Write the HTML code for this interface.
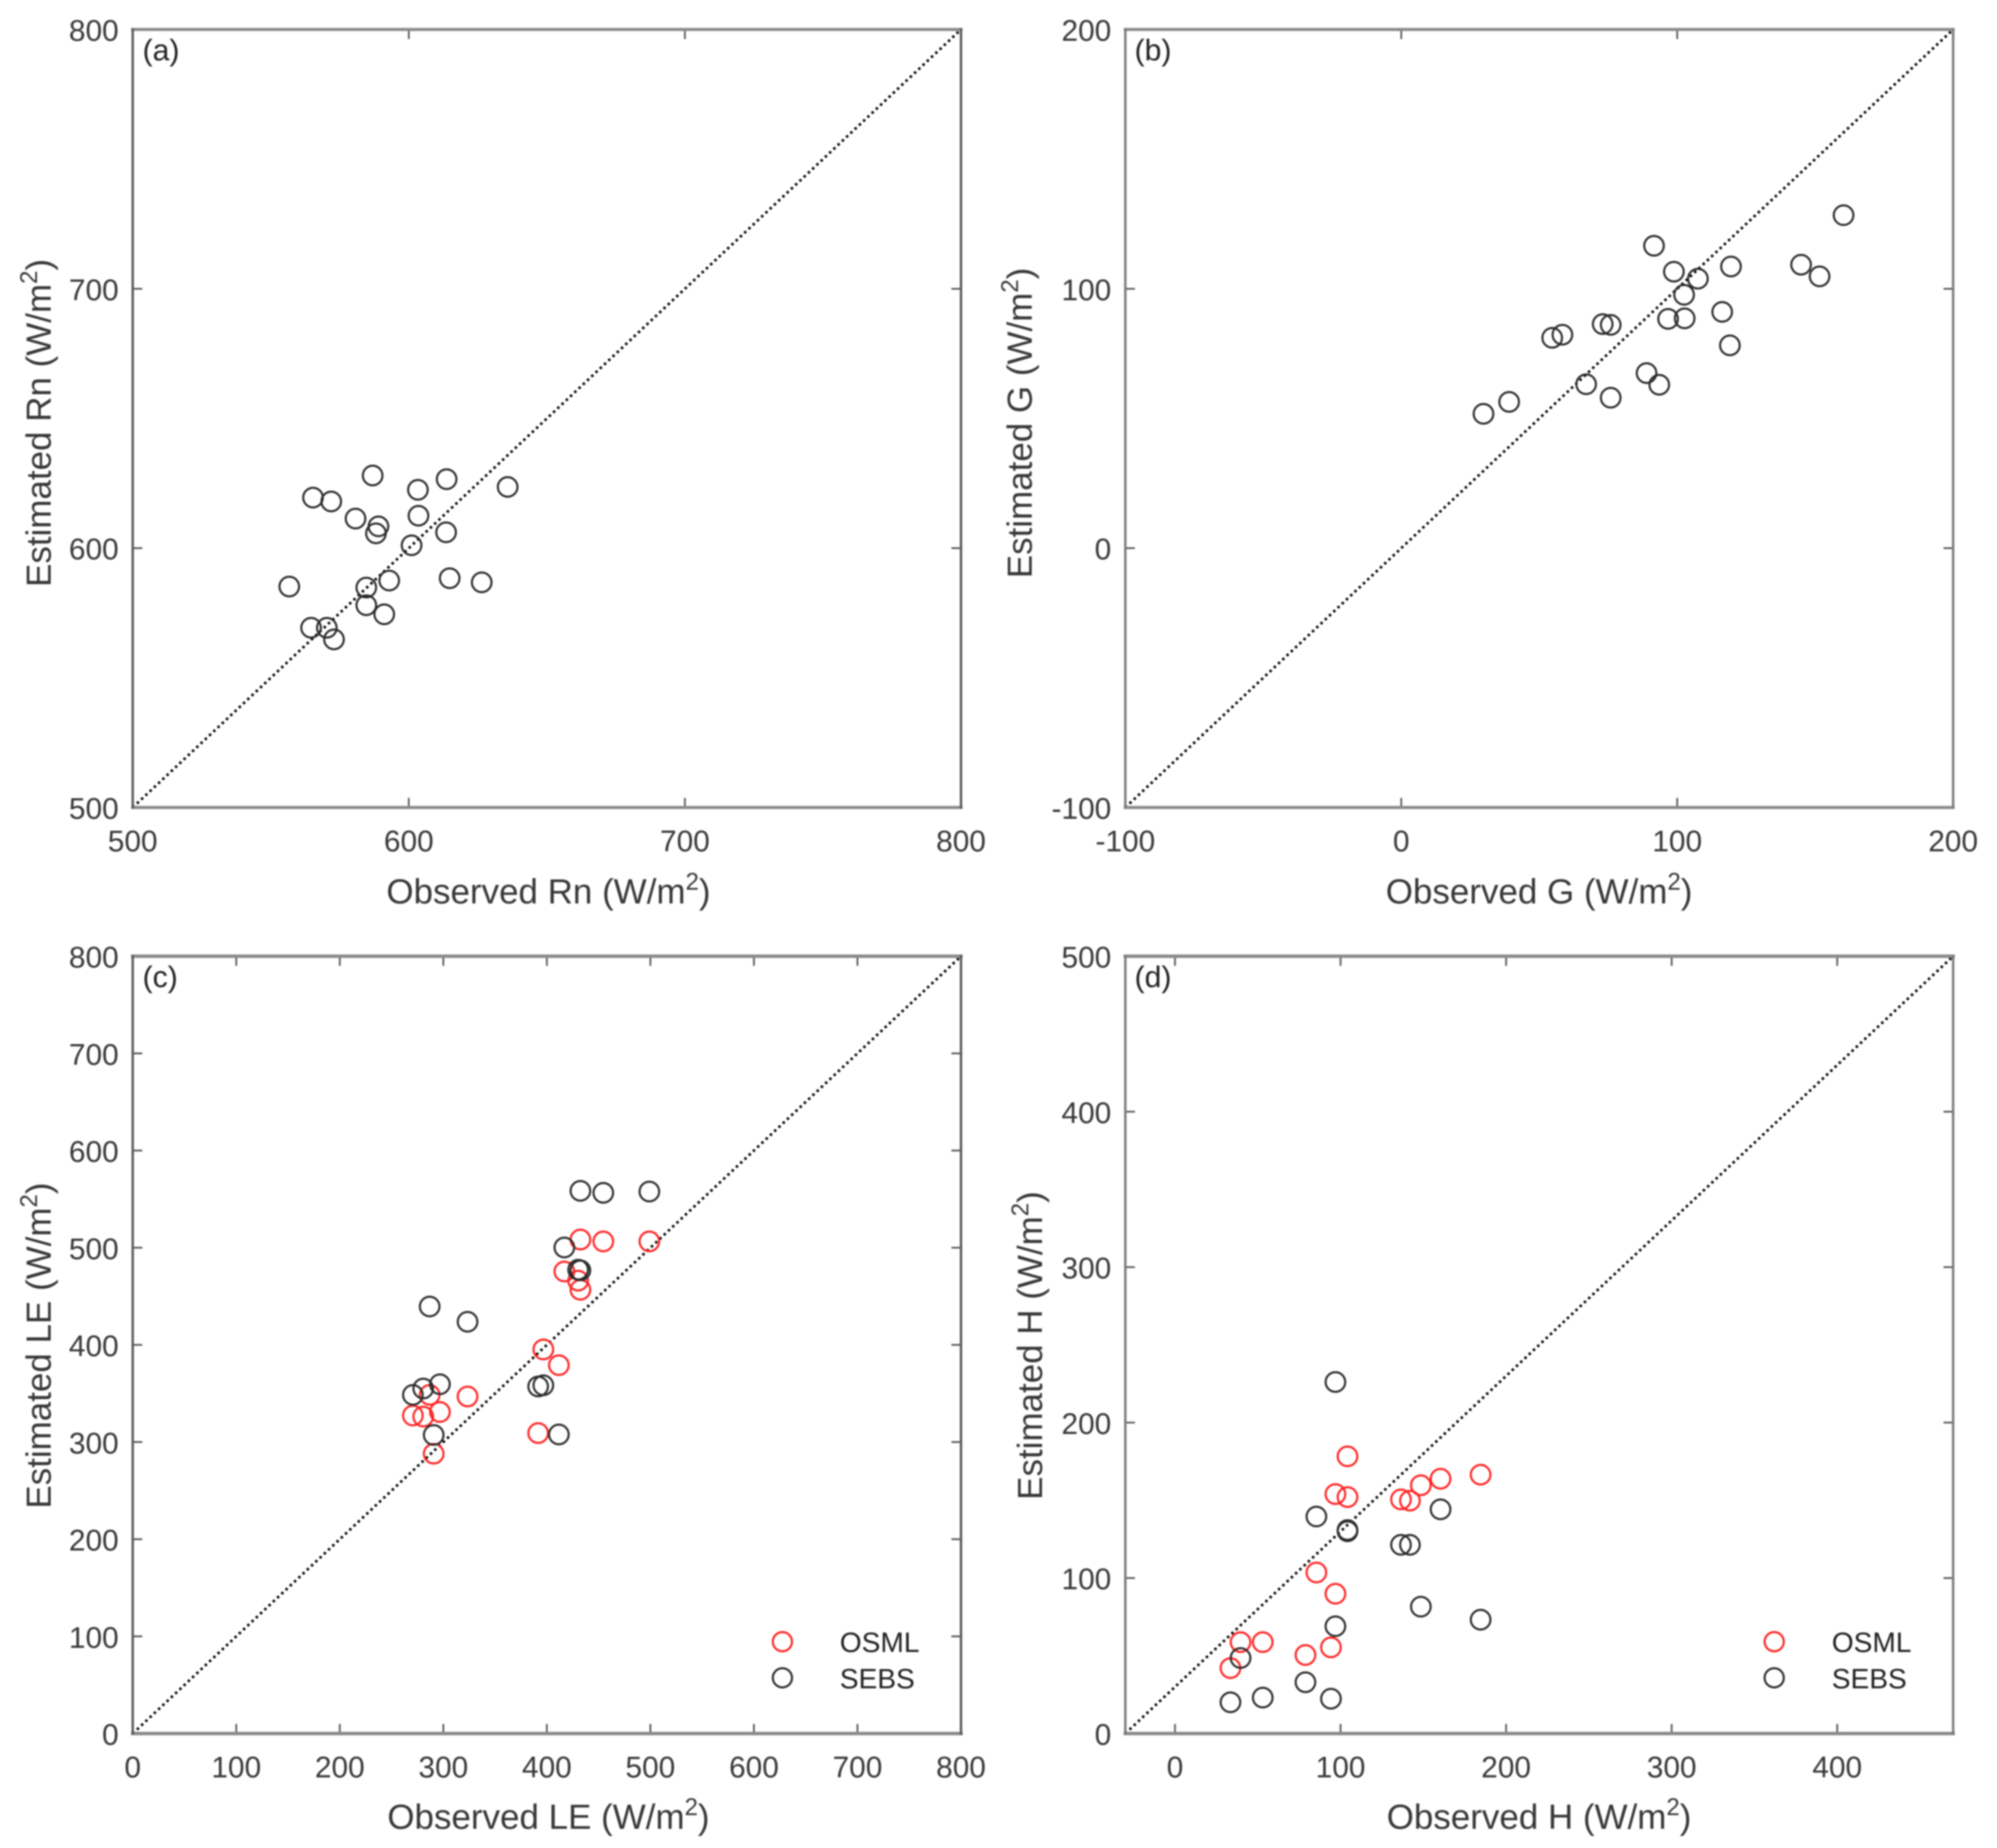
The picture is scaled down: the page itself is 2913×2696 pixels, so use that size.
<!DOCTYPE html>
<html lang="en">
<head>
<meta charset="utf-8">
<title>Observed vs estimated energy fluxes</title>
<style>
html,body{margin:0;padding:0;background:#fff;}
svg{display:block;filter:blur(0.95px);}
text{font-family:"Liberation Sans",Arial,sans-serif;}
.tick-label{font-size:43.5px;fill:#383838;}
.axis-title{font-size:51px;fill:#383838;}
.panel-tag{font-size:44px;fill:#222222;}
.legend-text{font-size:41px;fill:#222222;}
</style>
</head>
<body>
<svg id="chart" xmlns="http://www.w3.org/2000/svg" width="2913" height="2696" viewBox="0 0 2913 2696">
  <rect x="0" y="0" width="2913" height="2696" fill="#ffffff"/>

  <g id="panel-a"></g>
  <g id="panel-b"></g>
  <g id="panel-c"></g>
  <g id="panel-d"></g>

  <text class="panel-tag" x="208" y="88">(a)</text>
  <text class="panel-tag" x="1655" y="88">(b)</text>
  <text class="panel-tag" x="208" y="1440">(c)</text>
  <text class="panel-tag" x="1655" y="1440">(d)</text>

  <text class="axis-title" x="800" y="1318" text-anchor="middle">Observed Rn (W/m<tspan dy="-20" font-size="35">2</tspan><tspan dy="20">)</tspan></text>
  <text class="axis-title" x="2245" y="1318" text-anchor="middle">Observed G (W/m<tspan dy="-20" font-size="35">2</tspan><tspan dy="20">)</tspan></text>
  <text class="axis-title" x="800" y="2668" text-anchor="middle">Observed LE (W/m<tspan dy="-20" font-size="35">2</tspan><tspan dy="20">)</tspan></text>
  <text class="axis-title" x="2245" y="2668" text-anchor="middle">Observed H (W/m<tspan dy="-20" font-size="35">2</tspan><tspan dy="20">)</tspan></text>

  <text class="axis-title" transform="translate(74 617) rotate(-90)" text-anchor="middle">Estimated Rn (W/m<tspan dy="-20" font-size="35">2</tspan><tspan dy="20">)</tspan></text>
  <text class="axis-title" transform="translate(1505 617) rotate(-90)" text-anchor="middle">Estimated G (W/m<tspan dy="-20" font-size="35">2</tspan><tspan dy="20">)</tspan></text>
  <text class="axis-title" transform="translate(74 1963) rotate(-90)" text-anchor="middle">Estimated LE (W/m<tspan dy="-20" font-size="35">2</tspan><tspan dy="20">)</tspan></text>
  <text class="axis-title" transform="translate(1520 1963) rotate(-90)" text-anchor="middle">Estimated H (W/m<tspan dy="-20" font-size="35">2</tspan><tspan dy="20">)</tspan></text>

  <g>
    <circle cx="1141.3" cy="2395" r="14" fill="none" stroke="#ff2020" stroke-width="3"/>
    <text class="legend-text" x="1225" y="2410">OSML</text>
    <circle cx="1141.3" cy="2447.7" r="14" fill="none" stroke="#2a2a2a" stroke-width="3"/>
    <text class="legend-text" x="1225" y="2463">SEBS</text>
  </g>
  <g>
    <circle cx="2588" cy="2395" r="14" fill="none" stroke="#ff2020" stroke-width="3"/>
    <text class="legend-text" x="2672" y="2410">OSML</text>
    <circle cx="2588" cy="2447.7" r="14" fill="none" stroke="#2a2a2a" stroke-width="3"/>
    <text class="legend-text" x="2672" y="2463">SEBS</text>
  </g>
</svg>

<script>
// ---- Panel (a) Rn ----
const rnObserved = [556.7,564.6,570.3,572.9,565.3,571.9,580.7,586.9,589,588.1,584.6,584.6,591.1,592.9,601,603.3,603.5,613.7,613.5,614.8,626.4,635.8];
const rnEstimated = [585.2,569.3,569.3,564.8,619.5,618,611.4,628,608.4,605.7,584.8,578,574.5,587.5,601.1,622.5,612.5,626.6,606.1,588.4,586.8,623.6];
const rnXTicks = [500,600,700,800];
const rnYTicks = [500,600,700,800];

// ---- Panel (b) G ----
const gObserved = [29.8,39.1,54.7,58.4,67,73,75.9,75.9,88.9,93.5,91.6,96.7,98.8,102.5,102.7,107.5,116.3,119.1,119.5,144.9,151.6,160.3];
const gEstimated = [51.8,56.4,81.1,82.3,63.2,86.4,86.1,58,67.5,63,116.6,88.4,106.6,97.7,88.6,103.9,91.1,78.2,108.6,109.3,104.8,128.4];
const gXTicks = [-100,0,100,200];
const gYTicks = [-100,0,100,200];

// ---- Panel (c) LE ----
const leObserved = [432.4,454.5,499,416.9,430.2,432.4,396.6,411.6,286.8,323.4,296.7,280.6,270.6,391.6,290.7];
const leOsml = [508.4,506.5,506.5,475.5,466.1,456.7,395.3,379.1,348.5,346.9,330.9,326.2,327.3,309.2,288];
const leSebs = [558.5,556.5,557.8,500.2,477.4,476.7,358.4,307.8,439.5,423.8,359.5,355.1,348.5,357.2,307.3];
const leXTicks = [0,100,200,300,400,500,600,700,800];
const leYTicks = [0,100,200,300,400,500,600,700,800];

// ---- Panel (d) H ----
const hObserved = [33.5,39.6,53,78.8,85.4,94.2,96.9,96.9,104.2,104.2,136.5,141.9,148.5,160.4,184.6];
const hOsml = [42.1,58.8,58.8,50.5,103.6,55.4,89.9,154,178.3,152.1,150.6,149.8,159.7,163.9,166.5];
const hSebs = [20.1,48.6,23.1,33,139.6,22.4,69,226.1,130.1,130.9,121.4,121.4,81.6,144.2,73.2];
const hXTicks = [0,100,200,300,400];
const hYTicks = [0,100,200,300,400,500];

const SVG_NS = 'http://www.w3.org/2000/svg';

function make(tag, parent, attrs) {
  const el = document.createElementNS(SVG_NS, tag);
  for (const k in attrs) el.setAttribute(k, attrs[k]);
  parent.appendChild(el);
  return el;
}

function drawPanel(cfg) {
  const g = document.getElementById(cfg.id);
  const sx = v => cfg.left + (v - cfg.xLim[0]) / (cfg.xLim[1] - cfg.xLim[0]) * (cfg.right - cfg.left);
  const sy = v => cfg.bottom - (v - cfg.yLim[0]) / (cfg.yLim[1] - cfg.yLim[0]) * (cfg.bottom - cfg.top);

  // diagonal reference line
  const diag = make('line', g, {
    x1: sx(cfg.xLim[0]), y1: sy(cfg.yLim[0]),
    x2: sx(cfg.xLim[1]), y2: sy(cfg.yLim[1]),
    stroke: '#000000', 'stroke-width': 3.8, 'stroke-dasharray': '3.6 4.9'
  });
  
  

  // ticks + labels
  cfg.xTicks.forEach(t => {
    const x = sx(t);
    const bottomTick = make('line', g, {x1: x, y1: cfg.bottom, x2: x, y2: cfg.bottom - 14, stroke: '#555', 'stroke-width': 2.5});
    
    
    const topTick = make('line', g, {x1: x, y1: cfg.top, x2: x, y2: cfg.top + 14, stroke: '#555', 'stroke-width': 2.5});
    
    
    const label = make('text', g, {x: x, y: cfg.bottom + 64, 'text-anchor': 'middle', class: 'tick-label'});
    
    
    label.textContent = String(t);
  });
  cfg.yTicks.forEach(t => {
    const y = sy(t);
    const leftTick = make('line', g, {x1: cfg.left, y1: y, x2: cfg.left + 14, y2: y, stroke: '#555', 'stroke-width': 2.5});
    
    
    const rightTick = make('line', g, {x1: cfg.right, y1: y, x2: cfg.right - 14, y2: y, stroke: '#555', 'stroke-width': 2.5});
    
    
    const label = make('text', g, {x: cfg.left - 20.5, y: y + 16.5, 'text-anchor': 'end', class: 'tick-label'});
    
    
    label.textContent = String(t);
  });

  // frame
  const frameParts = [
    ['top', cfg.left, cfg.top, cfg.right, cfg.top, cfg.hColor, cfg.hWidth],
    ['bottom', cfg.left, cfg.bottom, cfg.right, cfg.bottom, cfg.hColor, cfg.hWidth],
    ['left', cfg.left, cfg.top, cfg.left, cfg.bottom, cfg.vColor, cfg.vWidth],
    ['right', cfg.right, cfg.top, cfg.right, cfg.bottom, cfg.vColor, cfg.vWidth]
  ];
  frameParts.forEach(p => {
    const spine = make('line', g, {x1: p[1], y1: p[2], x2: p[3], y2: p[4], stroke: p[5], 'stroke-width': p[6], 'stroke-linecap': 'square'});
    
    
  });

  // points
  cfg.series.forEach(s => {
    s.values.forEach((v, i) => {
      const c = make('circle', g, {cx: sx(cfg.observed[i]), cy: sy(v), r: 14.3, fill: 'none', stroke: s.color, 'stroke-width': 3});
      
      
    });
  });
}

drawPanel({
  id: 'panel-a', key: 'panel-a',
  left: 193.6, right: 1401.8, top: 43, bottom: 1178,
  xLim: [500, 800], yLim: [500, 800],
  xTicks: rnXTicks, yTicks: rnYTicks,
  hColor: '#8a8a8a', hWidth: 4.5, vColor: '#5a5a5a', vWidth: 3.5,
  observed: rnObserved,
  series: [{name: 'estimated', values: rnEstimated, color: '#2a2a2a'}]
});
drawPanel({
  id: 'panel-b', key: 'panel-b',
  left: 1641.5, right: 2849, top: 43, bottom: 1178,
  xLim: [-100, 200], yLim: [-100, 200],
  xTicks: gXTicks, yTicks: gYTicks,
  hColor: '#8a8a8a', hWidth: 4.5, vColor: '#7a7a7a', vWidth: 3.5,
  observed: gObserved,
  series: [{name: 'estimated', values: gEstimated, color: '#2a2a2a'}]
});
drawPanel({
  id: 'panel-c', key: 'panel-c',
  left: 193.6, right: 1401.8, top: 1395, bottom: 2529,
  xLim: [0, 800], yLim: [0, 800],
  xTicks: leXTicks, yTicks: leYTicks,
  hColor: '#8a8a8a', hWidth: 5, vColor: '#5a5a5a', vWidth: 3.5,
  observed: leObserved,
  series: [
    {name: 'osml', values: leOsml, color: '#ff2020'},
    {name: 'sebs', values: leSebs, color: '#2a2a2a'}
  ]
});
drawPanel({
  id: 'panel-d', key: 'panel-d',
  left: 1641.5, right: 2849, top: 1395, bottom: 2529,
  xLim: [-30, 470], yLim: [0, 500],
  xTicks: hXTicks, yTicks: hYTicks,
  hColor: '#8a8a8a', hWidth: 5, vColor: '#7a7a7a', vWidth: 3.5,
  observed: hObserved,
  series: [
    {name: 'osml', values: hOsml, color: '#ff2020'},
    {name: 'sebs', values: hSebs, color: '#2a2a2a'}
  ]
});
</script>
</body>
</html>
